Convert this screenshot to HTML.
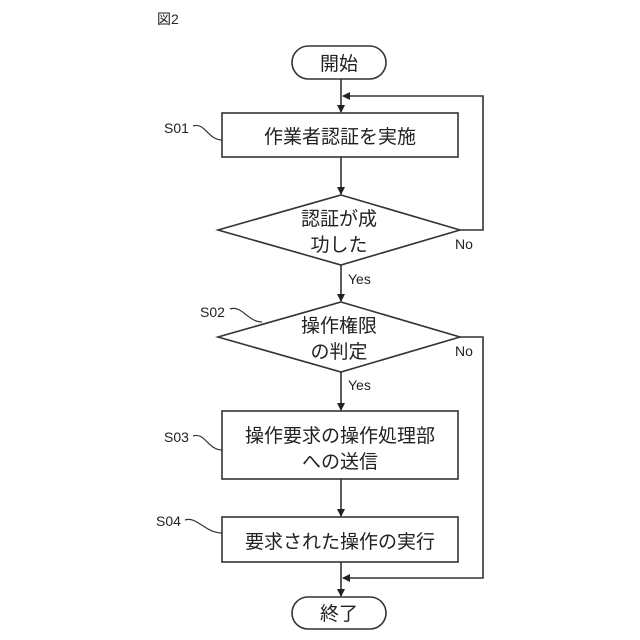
<!DOCTYPE html>
<html><head><meta charset="utf-8"><style>
html,body{margin:0;padding:0;background:#fff;}
svg{display:block;}
text{font-family:"Liberation Sans","Noto Sans CJK JP",sans-serif;fill:#222;}
.j{font-size:19px;}
.s{font-size:14px;}
</style></head><body>
<svg width="640" height="640" viewBox="0 0 640 640" xmlns="http://www.w3.org/2000/svg">
<defs><marker id="a" markerWidth="8" markerHeight="8" refX="7" refY="4" orient="auto" markerUnits="userSpaceOnUse"><path d="M0,0 L8,4 L0,8 z" fill="#222"/></marker></defs>
<g stroke="#333" stroke-width="1.6" fill="none">
<rect x="292" y="46" width="94" height="33" rx="16.5" fill="#fff"/>
<line x1="341" y1="79" x2="341" y2="112" marker-end="url(#a)"/>
<polyline points="460,230 483,230 483,96 343,96" marker-end="url(#a)"/>
<rect x="222" y="113" width="236" height="44" fill="#fff"/>
<line x1="341" y1="157" x2="341" y2="194" marker-end="url(#a)"/>
<polygon points="341,195 460,230 341,265 218,230" fill="#fff"/>
<line x1="341" y1="265" x2="341" y2="301" marker-end="url(#a)"/>
<polygon points="341,302 460,337 341,372 218,337" fill="#fff"/>
<line x1="341" y1="372" x2="341" y2="410" marker-end="url(#a)"/>
<rect x="222" y="411" width="236" height="68" fill="#fff"/>
<line x1="341" y1="479" x2="341" y2="516" marker-end="url(#a)"/>
<rect x="222" y="517" width="236" height="45" fill="#fff"/>
<line x1="341" y1="562" x2="341" y2="596" marker-end="url(#a)"/>
<polyline points="460,337 483,337 483,578 343,578" marker-end="url(#a)"/>
<rect x="292" y="597" width="94" height="32" rx="16" fill="#fff"/>
<path d="M193,126 C205,122 208,140 222,140" stroke-width="1.2"/>
<path d="M230,309 C242,305 248,322 262,322" stroke-width="1.2"/>
<path d="M193,436 C205,432 208,450 222,450" stroke-width="1.2"/>
<path d="M185,520 C197,516 205,533 222,533" stroke-width="1.2"/>
</g>
<text x="157" y="24" class="s">図2</text>
<text x="339" y="70" class="j" text-anchor="middle">開始</text>
<text x="340" y="143" class="j" text-anchor="middle">作業者認証を実施</text>
<text x="339" y="225" class="j" text-anchor="middle">認証が成</text>
<text x="339" y="251" class="j" text-anchor="middle">功した</text>
<text x="455" y="249" class="s">No</text>
<text x="348" y="284" class="s">Yes</text>
<text x="339" y="332" class="j" text-anchor="middle">操作権限</text>
<text x="339" y="358" class="j" text-anchor="middle">の判定</text>
<text x="455" y="356" class="s">No</text>
<text x="348" y="390" class="s">Yes</text>
<text x="340" y="442" class="j" text-anchor="middle">操作要求の操作処理部</text>
<text x="340" y="468" class="j" text-anchor="middle">への送信</text>
<text x="340" y="548" class="j" text-anchor="middle">要求された操作の実行</text>
<text x="339" y="620" class="j" text-anchor="middle">終了</text>
<text x="164" y="133" class="s">S01</text>
<text x="200" y="317" class="s">S02</text>
<text x="164" y="442" class="s">S03</text>
<text x="156" y="526" class="s">S04</text>
</svg>
</body></html>
